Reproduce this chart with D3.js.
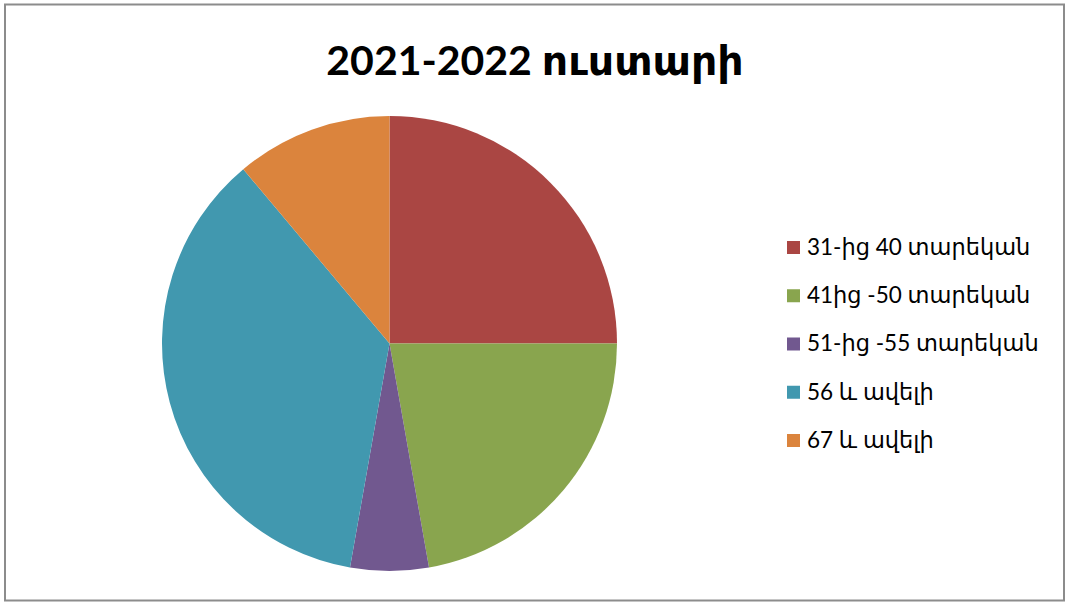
<!DOCTYPE html>
<html>
<head>
<meta charset="utf-8">
<script src="https://cdn.jsdelivr.net/npm/d3@7"></script>
<style>
  body { margin: 0; background: #fff; }
  svg { display: block; }
</style>
</head>
<body>
<div id="chart"></div>
<script>
// Data (shares of a total of 36)
const categories = [
  "31-ից 40 տարեկան",
  "41ից -50 տարեկան",
  "51-ից -55 տարեկան",
  "56 և ավելի",
  "67 և ավելի",
];
const values = [9, 8, 2, 13, 4];
const colors = ["#AA4643", "#89A54E", "#71588F", "#4198AF", "#DB843D"];
const title = "2021-2022 ուստարի";

const width = 1070,
  height = 603;
const cx = 389.5,
  cy = 343.5,
  radius = 227.5;

const svg = d3
  .select("#chart")
  .append("svg")
  .attr("width", width)
  .attr("height", height)
  .attr("viewBox", [0, 0, width, height]);

// outer frame
svg
  .append("rect")
  .attr("x", 5)
  .attr("y", 4.5)
  .attr("width", 1059)
  .attr("height", 596)
  .attr("fill", "#fff")
  .attr("stroke", "#8c8c8c")
  .attr("stroke-width", 2);

svg
  .append("text")
  .attr("x", 535)
  .attr("y", 75)
  .attr("text-anchor", "middle")
  .attr("font-family", "Lato, 'DejaVu Sans', sans-serif")
  .attr("font-weight", "bold")
  .attr("font-size", 41)
  .attr("fill", "#000")
  .text(title);

const color = d3.scaleOrdinal(categories, colors);

const pie = d3
  .pie()
  .value((d, i) => values[i])
  .sort(null);

const arc = d3.arc().innerRadius(0).outerRadius(radius);

svg
  .append("g")
  .attr("transform", `translate(${cx},${cy})`)
  .selectAll("path")
  .data(pie(categories))
  .join("path")
  .attr("fill", (d) => color(d.data))
  .attr("d", arc);

// legend
const legendY = d3
  .scalePoint()
  .domain(categories)
  .range([247, 440]);

const legend = svg
  .append("g")
  .selectAll("g")
  .data(categories)
  .join("g")
  .attr("transform", (d) => `translate(787,${legendY(d)})`);

legend
  .append("rect")
  .attr("x", 0)
  .attr("y", -6)
  .attr("width", 13)
  .attr("height", 13)
  .attr("fill", (d) => color(d));

legend
  .append("text")
  .attr("x", 20)
  .attr("y", 0)
  .attr("dy", "0.35em")
  .attr("font-family", "Lato, 'DejaVu Sans', sans-serif")
  .attr("font-size", 22.5)
  .attr("fill", "#000")
  .text((d) => d);
</script>
</body>
</html>
